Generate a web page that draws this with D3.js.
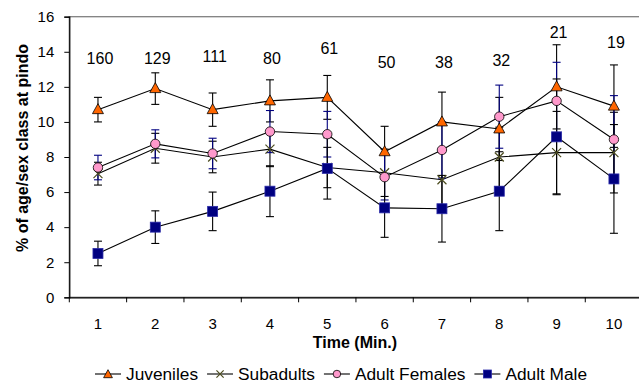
<!DOCTYPE html>
<html><head><meta charset="utf-8">
<script src="https://cdn.jsdelivr.net/npm/d3@7"></script>
<style>
html,body{margin:0;padding:0;background:#fff;}
svg{display:block;font-family:"Liberation Sans",Arial,sans-serif;}
</style></head>
<body>
<svg id="chart" width="639" height="383"></svg>
<script>
const times = ["1","2","3","4","5","6","7","8","9","10"];
const yTicks = [0,2,4,6,8,10,12,14,16];
const juveniles = [10.7, 11.9, 10.7, 11.2, 11.4, 8.3, 10.0, 9.6, 12.0, 10.9];
const juvenilesErr = [0.7, 0.9, 0.95, 1.2, 1.25, 1.45, 1.7, 1.8, 2.4, 2.35];
const subadults = [7.05, 8.5, 8.0, 8.45, 7.4, 7.1, 6.7, 8.0, 8.25, 8.25];
const subadultsErr = [0.65, 0.85, 0.9, 1.0, 1.15, 1.35, 1.55, 1.7, 2.35, 2.3];
const adultFemales = [7.4, 8.75, 8.2, 9.45, 9.3, 6.85, 8.4, 10.3, 11.2, 9.0];
const adultFemalesErr = [0.7, 0.8, 0.87, 1.2, 1.3, 1.3, 1.6, 1.8, 2.2, 2.5];
const adultMale = [2.5, 4.0, 4.9, 6.05, 7.35, 5.1, 5.05, 6.05, 9.15, 6.75];
const adultMaleErr = [0.7, 0.93, 1.1, 1.45, 1.75, 1.68, 1.9, 2.25, 3.3, 3.1];
const counts = [160, 129, 111, 80, 61, 50, 38, 32, 21, 19];
const countLevels = [13.33, 13.33, 13.39, 13.29, 13.9, 13.08, 13.05, 13.19, 14.81, 14.19];
const seriesNames = ["Juveniles", "Subadults", "Adult Females", "Adult Male"];

const series = [
  {name: seriesNames[0], values: juveniles, err: juvenilesErr, marker: "tri", fill: "#ff6600", stroke: "#000", errColor: "#000"},
  {name: seriesNames[1], values: subadults, err: subadultsErr, marker: "x", fill: "none", stroke: "#4d4d1f", errColor: "#000"},
  {name: seriesNames[2], values: adultFemales, err: adultFemalesErr, marker: "circle", fill: "#ff99cc", stroke: "#000", errColor: "#000080"},
  {name: seriesNames[3], values: adultMale, err: adultMaleErr, marker: "square", fill: "#000080", stroke: "#2a2aa8", errColor: "#000"}
];

const svg = d3.select("#chart");
const pLeft = 69.3, pRight = 642.6, pTop = 16.7, pBottom = 297.3;
const x = d3.scaleBand().domain(times).range([pLeft, pRight]);
const y = d3.scaleLinear().domain([0, 16]).range([pBottom, pTop]);
const cx = t => x(t) + x.bandwidth() / 2;

// plot frame
svg.append("rect").attr("x", pLeft).attr("y", pTop).attr("width", pRight - pLeft).attr("height", pBottom - pTop)
  .attr("fill", "none").attr("stroke", "#808080").attr("stroke-width", 1.3);

// axes
const yAxis = d3.axisLeft(y).tickValues(yTicks).tickSize(5).tickPadding(10).tickFormat(d3.format("d"));
const gy = svg.append("g").attr("transform", `translate(${pLeft},0)`).call(yAxis);
gy.select(".domain").attr("stroke", "#000").attr("stroke-width", 1.2);
gy.selectAll(".tick line").attr("stroke", "#000");
gy.selectAll("text").attr("font-size", 15).attr("fill", "#000").style("font-family", "Liberation Sans, Arial, sans-serif");

const xAxis = d3.axisBottom(x).tickSize(0).tickPadding(21);
const gx = svg.append("g").attr("transform", `translate(0,${pBottom})`).call(xAxis);
gx.select(".domain").attr("stroke", "#000").attr("stroke-width", 1.2);
gx.selectAll("text").attr("font-size", 15).attr("fill", "#000").style("font-family", "Liberation Sans, Arial, sans-serif");
// category boundary ticks
const bounds = times.map(t => x(t)).concat([pRight]);
gx.selectAll(".bt").data(bounds).enter().append("line")
  .attr("x1", d => d).attr("x2", d => d).attr("y1", 0).attr("y2", 5).attr("stroke", "#000");

// axis titles
svg.append("text").attr("x", (pLeft + pRight) / 2 - 1).attr("y", 348).attr("text-anchor", "middle")
  .attr("font-size", 16).attr("font-weight", "bold").text("Time (Min.)");
svg.append("text").attr("transform", `translate(28,${(pTop + pBottom) / 2 - 9}) rotate(-90)`).attr("text-anchor", "middle")
  .attr("font-size", 16).attr("font-weight", "bold").text("% of age/sex class at pindo");

// lines
const line = d3.line().x((d, i) => cx(times[i])).y(d => y(d));
series.forEach(s => {
  svg.append("path").datum(s.values).attr("d", line).attr("fill", "none").attr("stroke", "#000").attr("stroke-width", 1.1);
});

// error bars
series.forEach(s => {
  const g = svg.append("g");
  s.values.forEach((v, i) => {
    const px = cx(times[i]);
    const lo = y(v - s.err[i]), hi = y(v + s.err[i]);
    g.append("line").attr("x1", px).attr("x2", px).attr("y1", lo).attr("y2", hi).attr("stroke", s.errColor).attr("stroke-width", 1.1);
    [lo, hi].forEach(yy => g.append("line").attr("x1", px - 4).attr("x2", px + 4).attr("y1", yy).attr("y2", yy).attr("stroke", s.errColor).attr("stroke-width", 1.1));
  });
});

function drawMarker(g, s, px, py, k) {
  if (s.marker === "tri") {
    g.append("path").attr("d", `M${px},${py - 6 * k}L${px + 5.5 * k},${py + 4 * k}L${px - 5.5 * k},${py + 4 * k}Z`)
      .attr("fill", s.fill).attr("stroke", s.stroke).attr("stroke-width", 0.8);
  } else if (s.marker === "x") {
    const r = 4.5 * k;
    g.append("path").attr("d", `M${px - r},${py - r}L${px + r},${py + r}M${px - r},${py + r}L${px + r},${py - r}`)
      .attr("stroke", s.stroke).attr("stroke-width", 1.2).attr("fill", "none");
  } else if (s.marker === "circle") {
    g.append("circle").attr("cx", px).attr("cy", py).attr("r", 4.7 * k)
      .attr("fill", s.fill).attr("stroke", s.stroke).attr("stroke-width", 0.8);
  } else {
    const h = 5 * k;
    g.append("rect").attr("x", px - h).attr("y", py - h).attr("width", 2 * h).attr("height", 2 * h)
      .attr("fill", s.fill).attr("stroke", s.stroke).attr("stroke-width", 0.8);
  }
}

// markers
series.forEach(s => {
  const g = svg.append("g");
  s.values.forEach((v, i) => drawMarker(g, s, cx(times[i]), y(v), 1));
});

// count labels
svg.append("g").selectAll("text").data(counts).enter().append("text")
  .attr("x", (d, i) => cx(times[i]) + 2).attr("y", (d, i) => y(countLevels[i]))
  .attr("text-anchor", "middle").attr("font-size", 16).attr("fill", "#000").text(d => d);

// legend
const lg = svg.append("g").attr("transform", "translate(95,374)");
let lx = 0;
series.forEach(s => {
  const it = lg.append("g").attr("transform", `translate(${lx},0)`);
  it.append("line").attr("x1", 0).attr("x2", 26).attr("y1", 0).attr("y2", 0).attr("stroke", "#000").attr("stroke-width", 1.1);
  drawMarker(it, s, 13, s.marker === "tri" ? 0.5 : 0, 0.8);
  const t = it.append("text").attr("x", 31).attr("y", 6).attr("font-size", 17.3).text(s.name);
  lx += 31 + t.node().getComputedTextLength() + 9;
});
</script>
</body></html>
